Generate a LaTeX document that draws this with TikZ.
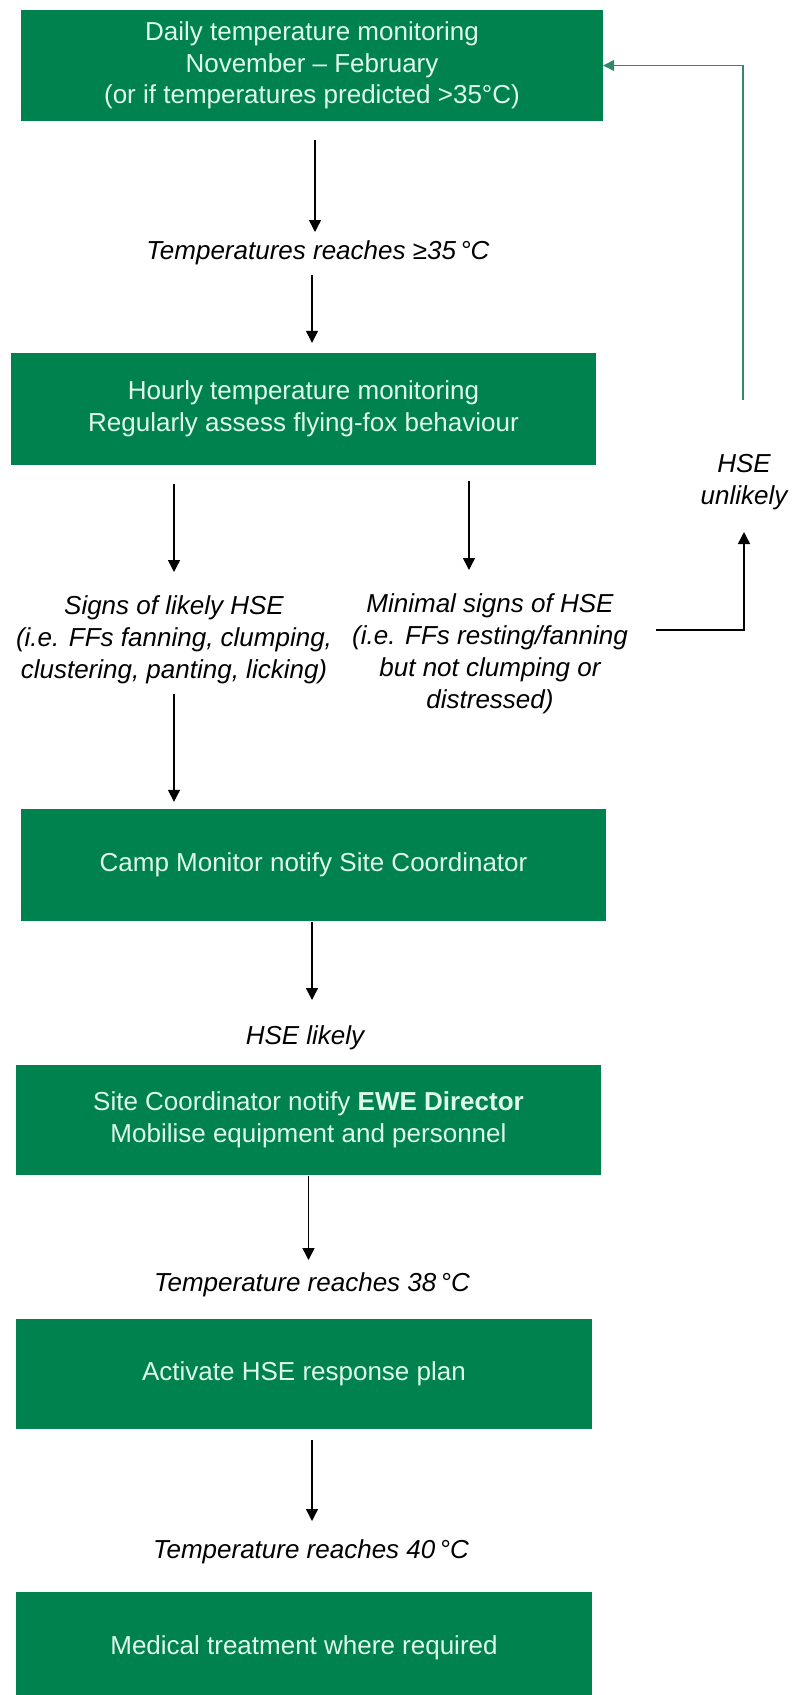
\documentclass[tikz,border=0pt]{standalone}
\usepackage{fontspec}
\setmainfont{Liberation Sans}
\usetikzlibrary{arrows.meta,calc}
\definecolor{boxgreen}{RGB}{0,130,78}
\definecolor{mint}{RGB}{222,250,234}
\definecolor{loopgreen}{RGB}{50,135,110}
\begin{document}
\begin{tikzpicture}[x=1pt,y=-1pt,
  box/.style={fill=boxgreen, text=mint, inner sep=0pt, align=center,
    font=\fontsize{26}{31.5}\selectfont},
  lab/.style={inner sep=0pt, align=center, font=\fontsize{26}{32}\selectfont\itshape},
  arr/.style={line width=1.4pt, -{Triangle[width=12pt,length=12pt]}},
  looparr/.style={line width=1.3pt, draw=loopgreen, -{Triangle[width=11pt,length=11pt]}}
]
\useasboundingbox[fill=white] (0,0) rectangle (792,1695);

% boxes
\node[box, minimum width=582pt, minimum height=111pt] (b1) at (312,65.5)
  {Daily temperature monitoring\\November – February\\(or if temperatures predicted >35°C)};
\node[box, minimum width=585pt, minimum height=112pt] (b2) at (303.5,409)
  {Hourly temperature monitoring\\Regularly assess flying-fox behaviour};
\node[box, minimum width=585pt, minimum height=112pt] (b3) at (313.5,865)
  {Camp Monitor notify Site Coordinator};
\node[box, minimum width=585pt, minimum height=110pt] (b4) at (308.5,1120)
  {Site Coordinator notify \textbf{EWE Director}\\Mobilise equipment and personnel};
\node[box, minimum width=576pt, minimum height=110pt] (b5) at (304,1374)
  {Activate HSE response plan};
\node[box, minimum width=576pt, minimum height=112pt] (b6) at (304,1648)
  {Medical treatment where required};

% labels
\node[lab] (l1) at (318,253) {Temperatures reaches ≥35\,°C};
\node[lab] (ll) at (174,640) {Signs of likely HSE\\(i.e. FFs fanning, clumping,\\clustering, panting, licking)};
\node[lab] (lr) at (490,654) {Minimal signs of HSE\\(i.e. FFs resting/fanning\\but not clumping or\\distressed)};
\node[lab] (hu) at (744,482) {HSE\\unlikely};
\node[lab] (hl) at (305,1038) {HSE likely};
\node[lab] (l38) at (312,1285) {Temperature reaches 38\,°C};
\node[lab] (l40) at (311,1552) {Temperature reaches 40\,°C};

% connectors
\draw[arr] ($(b1.south)+(3,19)$) -- ($(l1.center)+(-3,-21)$);
\draw[arr] ($(l1.center)+(-6,22)$) -- ($(b2.north -| l1.center)+(-6,-10)$);
\draw[arr] ($(b2.south -| ll.center)+(0,19)$) -- ($(ll.center)+(0,-68)$);
\draw[arr] ($(b2.south -| lr.center)+(-21,16)$) -- ($(lr.center)+(-21,-84)$);
\draw[arr] ($(ll.center)+(0,54)$) -- ($(b3.north -| ll.center)+(0,-7)$);
\draw[arr] ($(lr.east)+(28,-24)$) -| ($(hu.center)+(0,50)$);
\draw[looparr] ($(hu.center)+(-1,-82)$) |- (b1.east);
\draw[arr] ($(b3.south)+(-1.5,1)$) -- ($(hl.center)+(7,-38)$);
\draw[arr] ($(b4.south)+(0,1)$) -- ($(l38.center)+(-3.5,-25)$);
\draw[arr] ($(b5.south)+(8,11)$) -- ($(l40.center)+(1,-31)$);
\end{tikzpicture}
\end{document}
